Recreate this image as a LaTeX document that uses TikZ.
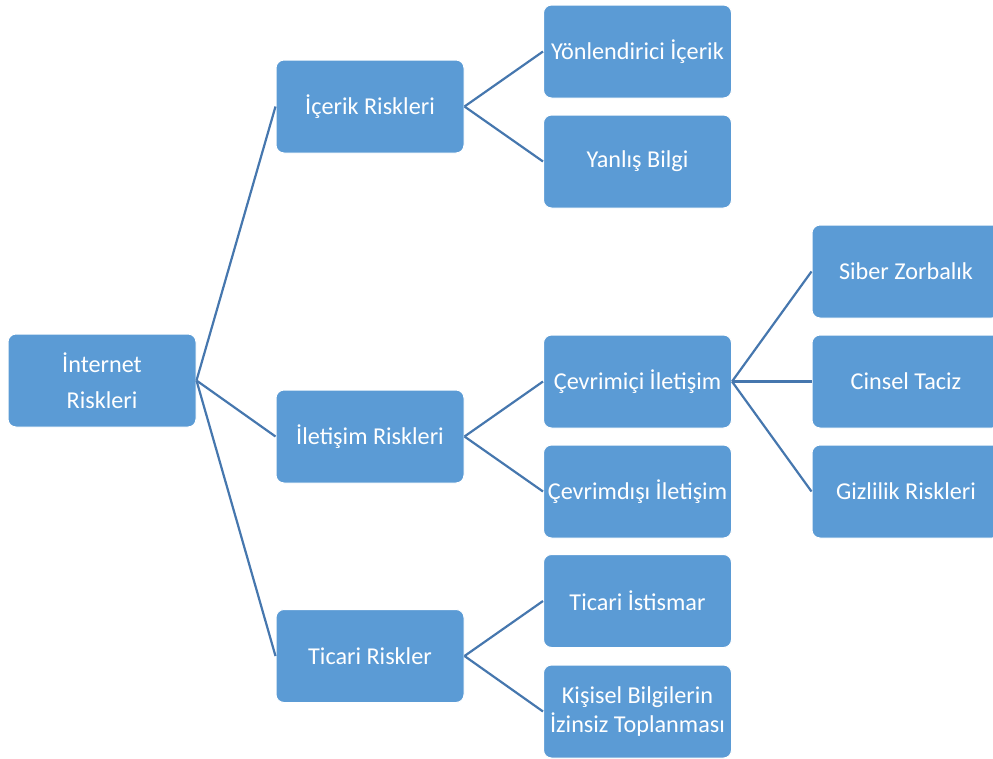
\documentclass[tikz,border=0pt]{standalone}
\usepackage{fontspec}
\setmainfont{Carlito}
\definecolor{kutumavi}{HTML}{5B9BD5}
\definecolor{cizgimavi}{HTML}{4677AE}
\tikzset{
	kutu/.style={draw=white, line width=1pt, fill=kutumavi, rounded corners=8pt,
		minimum width=188pt, minimum height=93pt, inner sep=2pt,
		align=center, text=white, font=\fontsize{24.2}{29}\selectfont},
	bag/.style={draw=cizgimavi, line width=2.2pt}
}

\begin{document}
\begin{tikzpicture}[x=1pt,y=-1pt]
	\useasboundingbox (0,0) rectangle (993,758);
	% kok
	\node[kutu] (internet) at (102,380.5) {İnternet\\[7pt]Riskleri};
	% birinci duzey
	\node[kutu] (icerik) at (370,106.5) {İçerik Riskleri};
	\node[kutu] (iletisim) at (370,436.5) {İletişim Riskleri};
	\node[kutu] (ticari) at (370,656) {Ticari Riskler};
	% ikinci duzey
	\node[kutu] (yonlendirici) at (637.5,51.5) {Yönlendirici İçerik};
	\node[kutu] (yanlis) at (637.5,161.5) {Yanlış Bilgi};
	\node[kutu] (cevrimici) at (637.5,381.5) {Çevrimiçi İletişim};
	\node[kutu] (cevrimdisi) at (637.5,491.5) {Çevrimdışı İletişim};
	\node[kutu] (istismar) at (637.5,601) {Ticari İstismar};
	\node[kutu] (kisisel) at (637.5,711.5) {Kişisel Bilgilerin\\İzinsiz Toplanması};
	% ucuncu duzey
	\node[kutu] (siber) at (906,271.5) {Siber Zorbalık};
	\node[kutu] (cinsel) at (906,381.5) {Cinsel Taciz};
	\node[kutu] (gizlilik) at (906,491.5) {Gizlilik Riskleri};
	% baglar
	\draw[bag] (internet.east) -- (icerik.west);
	\draw[bag] (internet.east) -- (iletisim.west);
	\draw[bag] (internet.east) -- (ticari.west);
	\draw[bag] (icerik.east) -- (yonlendirici.west);
	\draw[bag] (icerik.east) -- (yanlis.west);
	\draw[bag] (iletisim.east) -- (cevrimici.west);
	\draw[bag] (iletisim.east) -- (cevrimdisi.west);
	\draw[bag] (ticari.east) -- (istismar.west);
	\draw[bag] (ticari.east) -- (kisisel.west);
	\draw[bag] (cevrimici.east) -- (siber.west);
	\draw[bag] (cevrimici.east) -- (cinsel.west);
	\draw[bag] (cevrimici.east) -- (gizlilik.west);
\end{tikzpicture}
\end{document}
